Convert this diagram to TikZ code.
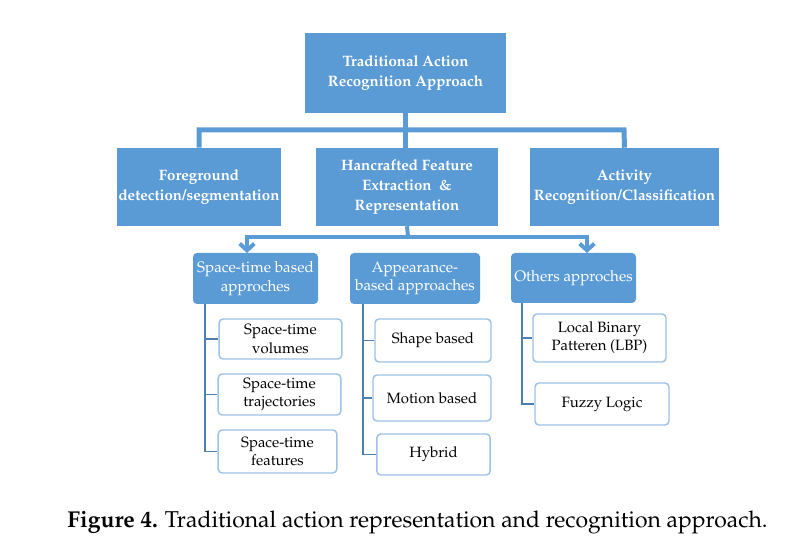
\documentclass[tikz,border=0pt]{standalone}
\usepackage[T1]{fontenc}
\usepackage{mathpazo}
\usetikzlibrary{arrows.meta}
\definecolor{cblue}{HTML}{5B9BD5}
\definecolor{cline}{HTML}{4F7FB0}
\definecolor{cleaf}{HTML}{9DC3E6}
\tikzset{
  mainbox/.style={fill=cblue, text=white, align=center, inner sep=0pt,
    font=\fontsize{11.3}{14.8}\selectfont\bfseries},
  subbox/.style={fill=cblue, text=white, align=center, inner sep=0pt, rounded corners=3pt,
    font=\fontsize{11.4}{14}\selectfont},
  leaf/.style={draw=cleaf, line width=1.1pt, fill=white, align=center, inner sep=0pt,
    rounded corners=3pt, font=\fontsize{11.2}{13.6}\selectfont},
  thick conn/.style={draw=cblue, line width=3.75pt},
  arrow conn/.style={draw=cblue, line width=3pt, -{Straight Barb[length=5pt,width=11pt]}},
  thin conn/.style={draw=cline, line width=1.1pt},
}
\begin{document}
\begin{tikzpicture}[x=0.75pt,y=-0.75pt]
\useasboundingbox (0,0) rectangle (807,548);
% top level
\node[mainbox, minimum width=151pt, minimum height=60pt] (top) at (405.5,73) {Traditional Action\\Recognition Approach};
\node[mainbox, minimum width=123pt, minimum height=58.5pt] (fg) at (199,187) {Foreground\\detection/segmentation};
\node[mainbox, minimum width=136.5pt, minimum height=58.5pt] (hf) at (407,187) {Hancrafted Feature\\Extraction \ \&\\Representation};
\node[mainbox, minimum width=141.75pt, minimum height=58.5pt] (ac) at (624.5,187) {Activity\\Recognition/Classification};
% connectors level 1
\coordinate (busr) at (624,130);
\draw[thick conn] (top.south) -- (top.south |- hf.north);
\draw[thick conn] (fg.north) |- (busr) -- (ac.north);
% second level
\node[subbox, minimum width=93.75pt, minimum height=38.25pt] (st) at (255.5,278.5) {Space-time based\\approches};
\node[subbox, minimum width=97.5pt, minimum height=38.25pt] (ap) at (415,278.5) {Appearance-\\based approaches};
\node[subbox, minimum width=93.75pt, minimum height=37.5pt] (ot) at (573.5,278) {Others approches};
\coordinate (bus) at (408,237);
\coordinate (stin) at (247,253);
\coordinate (otin) at (587,253);
\draw[thick conn, line width=3pt] (hf.south) -- (bus);
\draw[arrow conn] (bus) -| (stin);
\draw[arrow conn] (bus) -| (otin);
% leaves
\node[leaf, minimum width=92pt, minimum height=30pt] (l1) at (280.5,339) {Space-time\\volumes};
\node[leaf, minimum width=92pt, minimum height=30.75pt] (l2) at (279.5,394.5) {Space-time\\trajectories};
\node[leaf, minimum width=89pt, minimum height=32.25pt] (l3) at (277.5,451.5) {Space-time\\features};
\node[leaf, minimum width=87pt, minimum height=32.25pt] (a1) at (433,340.5) {Shape based};
\node[leaf, minimum width=88.5pt, minimum height=34.5pt] (a2) at (432,398) {Motion based};
\node[leaf, minimum width=85pt, minimum height=30.75pt] (a3) at (433.5,454.5) {Hybrid};
\node[leaf, minimum width=99.75pt, minimum height=36pt] (o1) at (599.5,338) {Local Binary\\Patteren (LBP)};
\node[leaf, minimum width=100.5pt, minimum height=31.5pt] (o2) at (602,404) {Fuzzy Logic};
\coordinate (str) at (205,304);
\coordinate (apr) at (363,304);
\coordinate (otr) at (522,303);
\draw[thin conn] (str) |- (l3.west);
\draw[thin conn] (str |- l1.west) -- (l1.west);
\draw[thin conn] (str |- l2.west) -- (l2.west);
\draw[thin conn] (apr) |- (a3.west);
\draw[thin conn] (apr |- a1.west) -- (a1.west);
\draw[thin conn] (apr |- a2.west) -- (a2.west);
\draw[thin conn] (otr) |- (o2.west);
\draw[thin conn] (otr |- o1.west) -- (o1.west);
% caption
\node[font=\fontsize{17.2}{19}\selectfont, inner sep=0pt] (cap) at (417.5,522) {\textbf{Figure 4.} Traditional action representation and recognition approach.};
\end{tikzpicture}
\end{document}
